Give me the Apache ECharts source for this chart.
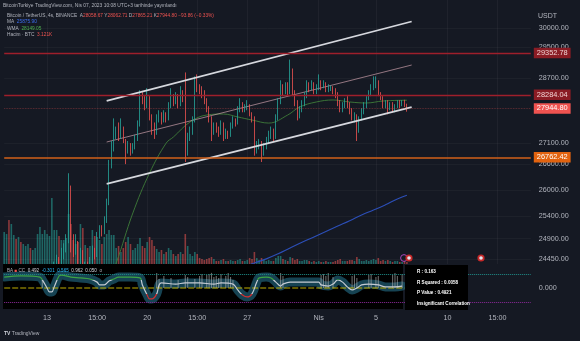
<!DOCTYPE html>
<html><head><meta charset="utf-8">
<script src="https://cdn.jsdelivr.net/npm/echarts@6/dist/echarts.min.js"></script>
<style>html,body{margin:0;padding:0;background:#151923;}#c{width:580px;height:341px;}</style>
</head><body><div id="c"></div>
<script>
// ---------- DATA ----------
const slotCount = 222; // 4h slots on the time axis (incl. empty future space)
const tickSlots = [18, 39, 60, 81, 102, 132, 156, 186, 207];
const tickLabels = ['13', '15:00', '20', '15:00', '27', 'Nis', '5', '10', '15:00'];
const priceTicks = [30000, 29500, 28700, 27100, 26600, 26000, 25400, 24900, 24450];
const levels = [29352.78, 28284.04, 27944.80, 26762.42];
// candles [open, close, low, high], slot 0 .. 169
const candles = [
[19700,19880,19620,19950],[19880,19900,19800,20050],[19900,19700,19600,20000],[19700,20100,19550,20200],
[20100,20250,20000,20350],[20250,20150,20050,20300],[20150,20300,20100,20400],[20300,19950,19850,20350],
[19950,20150,19900,20250],[20150,20400,20100,20500],[20400,20500,20300,20600],[20500,20450,20350,20650],
[20450,20700,20400,20800],[20700,21000,20600,21100],[21000,21200,20900,21350],[21200,21600,21100,21750],
[21600,21900,21500,22000],[21900,22150,21800,22300],[22150,22200,22000,22700],[22200,22600,22100,22800],
[22600,22900,22500,23100],[22900,24200,22800,24400],[24200,24400,24000,24550],[24400,24150,24000,24500],
[24150,24600,24050,24700],[24600,24700,24450,24800],[24700,24850,24600,25000],[24850,25950,24800,26386],
[25950,24900,24600,26100],[24900,24650,24500,25000],[24650,24800,24550,25000],[24800,24450,24350,24850],
[24450,24600,24300,24700],[24600,24050,23900,24650],[24050,24300,24000,24400],[24300,24280,24150,24400],
[24280,24400,24200,24500],[24400,24650,24350,24750],[24650,24550,24450,24700],[24550,24950,24500,25050],
[24950,25150,24900,25200],[25150,25050,24950,25200],[25050,25300,25000,25400],[25300,25700,25250,25800],
[25700,26600,25650,26700],[26600,27000,26500,27150],[27000,27350,26900,27700],[27350,27400,27200,27500],
[27400,27250,27150,27600],[27250,27450,27200,27700],[27450,27150,27100,27500],[27150,26950,26600,27200],
[26950,27050,26850,27150],[27050,26900,26800,27100],[26900,27000,26850,27100],[27000,27200,26950,27300],
[27200,27550,27150,27650],[27550,28250,27500,28400],[28250,28150,28050,28350],[28150,28000,27900,28250],
[28000,28200,27950,28450],[28200,27700,27650,28250],[27700,27500,27300,27800],[27500,27350,27200,27600],
[27350,27700,27300,27800],[27700,27750,27600,27900],[27750,27650,27550,27850],[27650,27800,27600,27900],
[27800,27700,27600,27850],[27700,28000,27650,28100],[28000,28200,27950,28450],[28200,28100,28000,28300],
[28100,28250,28050,28350],[28250,28050,27950,28300],[28050,28300,28000,28500],[28300,28200,28100,28400],
[28200,26900,26650,28850],[26900,27250,26800,27350],[27250,27400,27150,27500],[27400,27650,27300,27750],
[27650,28600,27600,28750],[28600,28450,28350,28800],[28450,28400,28300,28550],[28400,28300,28200,28500],
[28300,28150,28050,28400],[28150,27900,27850,28200],[27900,27700,27600,28000],[27700,27450,27150,27750],
[27450,27500,27300,27600],[27500,27450,27350,27600],[27450,27350,27250,27500],[27350,27550,27300,27650],
[27550,27250,27150,27600],[27250,27350,27200,27450],[27350,27300,27200,27400],[27300,27500,27250,27600],
[27500,27650,27450,27750],[27650,27600,27500,27700],[27600,27900,27550,28000],[27900,28050,27850,28200],
[28050,27950,27850,28100],[27950,27980,27850,28050],[27980,28000,27900,28150],[28000,27800,27750,28050],
[27800,27700,27600,27850],[27700,26950,26800,27750],[26950,27050,26850,27150],[27050,27100,26950,27200],
[27100,26900,26650,27150],[26900,27000,26800,27100],[27000,27150,26950,27250],[27150,27300,27100,27400],
[27300,27400,27200,27500],[27400,27250,27150,27450],[27250,27700,27200,27800],[27700,28100,27650,28200],
[28100,28450,28050,28650],[28450,28350,28250,28550],[28350,28500,28300,28600],[28500,28350,28250,28600],
[28350,28900,28300,29180],[28900,28300,28250,28950],[28300,28100,28000,28400],[28100,27750,27650,28150],
[27750,27900,27700,28000],[27900,28050,27850,28150],[28050,28250,28000,28350],[28250,28500,28200,28650],
[28500,28450,28350,28600],[28450,28550,28400,28650],[28550,28350,28300,28600],[28350,28450,28300,28550],
[28450,28600,28400,28800],[28600,28500,28400,28650],[28500,28550,28450,28650],[28550,28400,28350,28600],
[28400,28450,28350,28550],[28450,28450,28380,28520],[28450,28400,28300,28500],[28400,28300,28200,28450],
[28300,28100,28000,28350],[28100,27900,27850,28150],[27900,28000,27850,28100],[28000,28100,27950,28200],
[28100,28050,27950,28250],[28050,27850,27800,28100],[27850,27700,27650,27950],[27700,27750,27600,27850],
[27750,27400,27150,27800],[27400,27700,27350,27750],[27700,27850,27650,27950],[27850,28000,27800,28100],
[28000,28200,27950,28250],[28200,28300,28150,28400],[28300,28450,28250,28550],[28450,28550,28400,28750],
[28550,28600,28450,28750],[28600,28300,28250,28650],[28300,28200,28150,28350],[28200,28000,27950,28250],
[28000,28100,27950,28150],[28100,27950,27800,28150],[27950,28050,27900,28100],[28050,27900,27850,28100],
[27900,28000,27850,28050],[28000,28100,27950,28150],[28100,28050,27950,28150],[28050,28100,28000,28150],
[28100,28058.67,27980,28160],[28058.67,27944.80,27865.21,28062.71]
];
// volume (k BTC) per slot 0 .. 169
const volumes = [
64,60,88,80,58,50,54,44,40,36,40,32,28,32,60,74,60,68,60,56,
132,68,68,56,48,48,52,100,80,48,40,44,80,72,38,32,36,68,56,54,
48,40,54,60,68,58,58,32,36,24,32,44,54,40,28,32,40,52,36,32,
44,54,48,36,30,24,28,20,24,32,28,20,16,20,24,20,60,36,20,16,
24,20,12,10,8,10,12,14,10,6,6,8,10,6,6,8,6,6,8,10,
6,6,8,12,10,24,12,8,12,8,6,8,6,6,12,16,16,10,8,6,
14,12,8,10,6,6,8,8,6,4,6,4,6,4,4,6,4,4,4,6,
8,10,6,6,6,8,8,6,14,10,6,6,8,6,8,10,8,12,6,8,
6,8,6,4,6,6,4,4,6,4
];
// moving averages [slot, price]
const maPts = [[95,24180],[100,24280],[105,24370],[110,24460],[115,24570],[120,24696],[125,24820],[130,24940],[135,25060],[140,25180],[145,25300],[150,25430],[155,25540],[160,25660],[165,25790],[169,25875.9]];
const wmaPts = [[40,23500],[47,24370],[54,25474],[61,26391],[68,27102],[71,27246],[78,27612],[85,27783],[92,27807],[98,27735],[104,27660],[111,27585],[119,27783],[124,27980],[131,28105],[138,28155],[145,28105],[152,28080],[159,28130],[169,28149.05]];
// channel trend lines [slot, price]
const chUpper = [[43,28131],[171,30181]];
const chLower = [[43,26137],[171,27980]];
const chMid = [[43,27126],[171,29040]];
// oscillator (correlation coefficient) [slot, value]
const ccLine = [[0,0.39],[7,0.43],[15,0.39],[16,0.29],[18,0.0],[19,-0.14],[20,-0.14],[21,0.04],[23,0.43],[24,0.46],[28,0.39],[32,0.36],[36,0.32],[39,0.21],[40,0.11],[42,0.11],[44,0.25],[46,0.32],[48,0.39],[53,0.39],[57,0.36],[58,0.11],[60,-0.25],[61,-0.39],[62,-0.39],[64,-0.21],[65,0.11],[66,0.18],[72,0.14],[76,0.18],[82,0.18],[88,0.14],[91,0.18],[96,0.14],[98,-0.07],[100,-0.25],[102,-0.32],[104,-0.21],[106,0.21],[107,0.36],[110,0.39],[112,0.36],[114,0.21],[116,0.07],[117,0.14],[120,0.21],[124,0.21],[132,0.21],[133,0.11],[136,0.07],[138,0.14],[140,0.29],[142,0.21],[144,0.04],[146,-0.07],[148,0.0],[150,0.11],[153,0.14],[157,0.11],[160,0.04],[164,0.04],[167,0.07]];
const ccSpikes = [[16,0.29],[64,0.54],[65,0.32],[67,0.43],[70,0.36],[73,0.29],[76,0.46],[77,0.39],[80,0.32],[82,0.43],[83,0.5],[85,0.46],[86,0.5],[87,0.54],[88,0.39],[89,0.43],[90,0.36],[91,0.5],[93,0.43],[94,0.54],[95,0.39],[96,0.29],[116,0.54],[117,0.43],[133,0.46],[134,0.5],[135,0.43],[136,0.54],[138,0.39],[146,0.43],[147,0.46],[148,0.36],[153,0.46],[154,0.5],[156,0.39],[157,0.43],[163,0.46],[164,0.54],[165,0.43],[167,0.5]];
const ccZero = [[0,0],[168,0]];
const ccBands = [0.5, -0.5];

// ---------- CHART ----------
const FONT = 'Liberation Sans, Arial, sans-serif';
const BG = '#151923';
const cats = Array.from({length: slotCount}, (_, i) => String(i));
const labelAt = {};
tickSlots.forEach((s, i) => { labelAt[s] = tickLabels[i]; });
const isTick = (idx) => labelAt[idx] !== undefined;

const UP = '#26a69a', DN = '#ef5350';
const volData = volumes.map((v, i) => ({
  value: v,
  itemStyle: { color: candles[i][1] >= candles[i][0] ? 'rgba(38,166,154,0.55)' : 'rgba(239,83,80,0.55)' }
}));

const L = 4.19, R = 49.2;
const gridCommon = { left: L, right: R, outerBoundsMode: 'none', containLabel: false };
const vSplit = { show: true, interval: (i) => isTick(i), lineStyle: { color: 'rgba(255,255,255,0.045)', width: 1 } };

const levelStyles = [
  { line: { color: '#9e1f2b', width: 1.4, type: 'solid' }, bg: '#8a1c24', fg: '#f2d4d4' },
  { line: { color: '#9e1f2b', width: 1.4, type: 'solid' }, bg: '#8a1c24', fg: '#f2d4d4' },
  { line: { color: 'rgba(239,83,80,0.45)', width: 0.8, type: 'dotted' }, bg: '#ef5350', fg: '#ffffff' },
  { line: { color: '#d2601a', width: 1.5, type: 'solid' }, bg: '#e2630f', fg: '#ffffff' }
];

const option = {
  animation: false,
  backgroundColor: BG,
  textStyle: { fontFamily: FONT },
  grid: [
    Object.assign({ top: 0, height: 264 }, gridCommon),
    Object.assign({ top: 154, height: 110 }, gridCommon),
    Object.assign({ top: 264, height: 45 }, gridCommon)
  ],
  xAxis: [
    { type: 'category', gridIndex: 0, data: cats, boundaryGap: false, axisLine: { show: false }, axisTick: { show: false }, axisLabel: { show: false }, splitLine: vSplit },
    { type: 'category', gridIndex: 1, data: cats, boundaryGap: false, show: false },
    { type: 'category', gridIndex: 2, data: cats, boundaryGap: false, z: 200, axisLine: { show: false }, axisTick: { show: false },
      axisLabel: { show: true, interval: (i) => isTick(i), formatter: (v, i) => labelAt[i] || '', color: '#b2b5be', fontSize: 7.2, margin: 6, fontFamily: FONT },
      splitLine: { show: false } }
  ],
  yAxis: [
    { type: 'log', logBase: 10, gridIndex: 0, min: 24349, max: 30761, show: false },
    { type: 'value', gridIndex: 1, min: 0, max: 220, show: false },
    { type: 'value', gridIndex: 2, min: -0.75, max: 0.857, show: false }
  ],
  visualMap: [{
    type: 'piecewise', show: false, seriesIndex: 10, dimension: 1,
    pieces: [{ lt: -0.2, color: '#d32f2f' }, { gte: -0.2, lte: 0.27, color: '#c3cad2' }, { gt: 0.27, color: '#3da343' }]
  }],
  series: [
    // 0 volume
    { type: 'bar', xAxisIndex: 1, yAxisIndex: 1, data: volData, barWidth: 1.6, silent: true, z: 1 },
    // 1 candles + price level tags
    { type: 'candlestick', xAxisIndex: 0, yAxisIndex: 0, data: candles, barWidth: 1.3, clip: true, silent: true, z: 6,
      itemStyle: { color: UP, color0: DN, borderColor: UP, borderColor0: DN, borderWidth: 0.8 },
      markLine: {
        silent: true, symbol: ['none', 'none'], animation: false, z: 20,
        label: { position: 'end', distance: 3, fontSize: 7.4, fontFamily: FONT, padding: [2, 3, 1.5, 3], formatter: (p) => Number(p.value).toFixed(2) },
        data: levels.map((v, i) => ({ yAxis: v, lineStyle: levelStyles[i].line,
          label: { backgroundColor: levelStyles[i].bg, color: levelStyles[i].fg } }))
      } },
    // 2 WMA
    { type: 'line', xAxisIndex: 0, yAxisIndex: 0, data: wmaPts, smooth: 0.4, showSymbol: false, silent: true, z: 4,
      lineStyle: { color: '#3f7d3a', width: 0.9 } },
    // 3 MA
    { type: 'line', xAxisIndex: 0, yAxisIndex: 0, data: maPts, smooth: true, showSymbol: false, silent: true, z: 4,
      lineStyle: { color: '#2c4fb8', width: 1.1 } },
    // 4 channel upper
    { type: 'line', xAxisIndex: 0, yAxisIndex: 0, data: chUpper, showSymbol: false, silent: true, z: 7,
      lineStyle: { color: '#d6d8de', width: 1.8 } },
    // 5 channel lower + price tick labels
    { type: 'line', xAxisIndex: 0, yAxisIndex: 0, data: chLower, showSymbol: false, silent: true, z: 7,
      lineStyle: { color: '#d6d8de', width: 1.8 },
      markLine: {
        silent: true, symbol: ['none', 'none'], animation: false, z: 2,
        lineStyle: { color: 'rgba(255,255,255,0.035)', width: 1, type: 'solid' },
        label: { position: 'end', distance: 8, color: '#b2b5be', fontSize: 7.2, fontFamily: FONT, formatter: (p) => Number(p.value).toFixed(2) },
        data: priceTicks.map((v) => ({ yAxis: v }))
      } },
    // 6 channel middle
    { type: 'line', xAxisIndex: 0, yAxisIndex: 0, data: chMid, showSymbol: false, silent: true, z: 5,
      lineStyle: { color: 'rgba(232,180,192,0.6)', width: 1 } },
    // 7 oscillator band
    { type: 'line', xAxisIndex: 2, yAxisIndex: 2, data: ccLine, smooth: 0.35, showSymbol: false, silent: true, z: 9,
      lineStyle: { color: 'rgba(28,84,104,0.8)', width: 9, cap: 'round', join: 'round' } },
    // 8 oscillator histogram spikes
    { type: 'bar', xAxisIndex: 2, yAxisIndex: 2, data: ccSpikes, barWidth: 1.1, silent: true, z: 10,
      itemStyle: { color: 'rgba(175,175,175,0.6)' } },
    // 9 zero line
    { type: 'line', xAxisIndex: 2, yAxisIndex: 2, data: ccZero, showSymbol: false, silent: true, z: 11,
      lineStyle: { color: '#bfae00', width: 1.2, type: [6, 2] } },
    // 10 CC line
    { type: 'line', xAxisIndex: 2, yAxisIndex: 2, data: ccLine, smooth: 0.35, showSymbol: false, silent: true, z: 12,
      lineStyle: { width: 1.2 },
      markLine: {
        silent: true, symbol: ['none', 'none'], animation: false, z: 13,
        label: { show: false },
        data: [
          { yAxis: ccBands[0], lineStyle: { color: '#1f8f8a', width: 1, type: 'dotted' } },
          { yAxis: ccBands[1], lineStyle: { color: '#8e2a9c', width: 1, type: 'dotted' } },
          { yAxis: 0, lineStyle: { color: 'rgba(0,0,0,0)', width: 0 }, label: { show: true, position: 'end', distance: 8, color: '#b2b5be', fontSize: 7.2, fontFamily: FONT, formatter: () => '0.000' } }
        ]
      } }
  ],
  graphic: [
    // oscillator pane background (also masks price marks below the main pane)
    { type: 'rect', z: 8, shape: { x: 0, y: 264, width: 403, height: 45 }, style: { fill: '#000000' }, silent: true },
    { type: 'rect', z: 8, shape: { x: 403, y: 264, width: 129, height: 45 }, style: { fill: BG }, silent: true },
    { type: 'rect', z: 150, shape: { x: 0, y: 309, width: 580, height: 32 }, style: { fill: BG }, silent: true },
    { type: 'rect', z: 150, shape: { x: 0, y: 264, width: 3, height: 45 }, style: { fill: BG }, silent: true },
    { type: 'rect', z: 160, shape: { x: 405, y: 265, width: 63, height: 45 }, style: { fill: '#000000' }, silent: true },
    { type: 'text', z: 161, x: 417, y: 272, style: { text: 'R : 0.163', fill: '#ffffff', font: 'bold 4.6px ' + FONT, verticalAlign: 'middle' } },
    { type: 'text', z: 161, x: 417, y: 282.5, style: { text: 'R Squared : 0.0058', fill: '#ffffff', font: 'bold 4.6px ' + FONT, verticalAlign: 'middle' } },
    { type: 'text', z: 161, x: 417, y: 293, style: { text: 'P Value : 0.4921', fill: '#ffffff', font: 'bold 4.6px ' + FONT, verticalAlign: 'middle' } },
    { type: 'text', z: 161, x: 417, y: 303.5, style: { text: 'Insignificant Correlation', fill: '#ffffff', font: 'bold 4.6px ' + FONT, verticalAlign: 'middle' } },
    // header
    { type: 'text', z: 101, x: 3, y: 6, style: { text: 'BitcoinTurkiye TradingView.com, Nis 07, 2023 10:08 UTC+3 tarihinde yayınlandı', fill: '#b2b5be', font: '4.9px ' + FONT, verticalAlign: 'middle' } },
    { type: 'text', z: 101, x: 7, y: 15.7, style: { verticalAlign: 'middle', font: '4.8px ' + FONT,
      text: '{g|Bitcoin / TetherUS, 4s, BINANCE}  {g|A}{r|28058.67} {g|Y}{r|28062.71} {g|D}{r|27865.21} {g|K}{r|27944.80} {r|−93.86 (−0.33%)}',
      rich: { g: { fill: '#b2b5be', font: '4.8px ' + FONT }, r: { fill: '#ef5350', font: '4.8px ' + FONT } } } },
    { type: 'text', z: 101, x: 7, y: 22, style: { verticalAlign: 'middle', font: '4.8px ' + FONT, text: '{g|MA}  {b|25875.90}',
      rich: { g: { fill: '#b2b5be', font: '4.8px ' + FONT }, b: { fill: '#3d6ff0', font: '4.8px ' + FONT } } } },
    { type: 'text', z: 101, x: 7, y: 28.3, style: { verticalAlign: 'middle', font: '4.8px ' + FONT, text: '{g|WMA}  {b|28149.05}',
      rich: { g: { fill: '#b2b5be', font: '4.8px ' + FONT }, b: { fill: '#4caf50', font: '4.8px ' + FONT } } } },
    { type: 'text', z: 101, x: 7, y: 34.5, style: { verticalAlign: 'middle', font: '4.8px ' + FONT, text: '{g|Hacim · BTC}  {b|3.121K}',
      rich: { g: { fill: '#b2b5be', font: '4.8px ' + FONT }, b: { fill: '#ef5350', font: '4.8px ' + FONT } } } },
    { type: 'text', z: 101, x: 538, y: 16, style: { text: 'USDT', fill: '#b2b5be', font: '7px ' + FONT, verticalAlign: 'middle' } },
    // oscillator legend
    { type: 'text', z: 161, x: 7, y: 270.5, style: { verticalAlign: 'middle', font: '4.6px ' + FONT,
      text: '{g|BA} {i|■} {g|CC}  {w|0.492}  {c|-0.301}  {c|0.565}  {w|0.962}  {w|0.050}  {g|o}',
      rich: { g: { fill: '#b2b5be', font: '4.6px ' + FONT }, i: { fill: '#ef5350', font: '4.6px ' + FONT }, w: { fill: '#d1d4dc', font: '4.6px ' + FONT }, c: { fill: '#29b6f6', font: '4.6px ' + FONT } } } },
    // event icons
    { type: 'circle', z: 101, shape: { cx: 404, cy: 258, r: 3.4 }, style: { fill: 'none', stroke: '#ab47bc', lineWidth: 1 } },
    { type: 'circle', z: 102, shape: { cx: 409, cy: 258, r: 3.6 }, style: { fill: '#c62828' } },
    { type: 'circle', z: 103, shape: { cx: 409, cy: 258, r: 1.8 }, style: { fill: '#e3e6f0' } },
    { type: 'circle', z: 102, shape: { cx: 481, cy: 258, r: 3.6 }, style: { fill: '#c62828' } },
    { type: 'circle', z: 103, shape: { cx: 481, cy: 258, r: 1.8 }, style: { fill: '#e3e6f0' } },
    // logo
    { type: 'text', z: 201, x: 4, y: 334, style: { verticalAlign: 'middle', font: '5px ' + FONT, text: '{l|TV} {t|TradingView}',
      rich: { l: { fill: '#d1d4dc', font: 'bold 5px ' + FONT }, t: { fill: '#b2b5be', font: '5px ' + FONT } } } }
  ]
};

const chart = echarts.init(document.getElementById('c'), null, { renderer: 'canvas', width: 580, height: 341 });
chart.setOption(option);
</script></body></html>
